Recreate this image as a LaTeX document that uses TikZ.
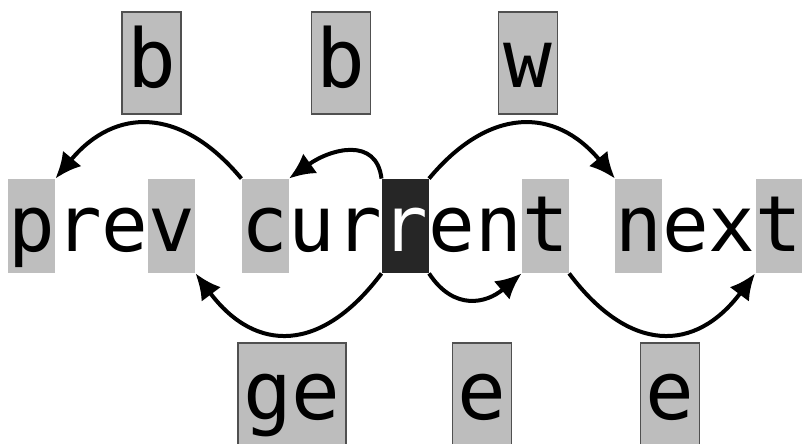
\documentclass[tikz,border=0pt]{standalone}
\usepackage{fontspec}
\newfontfamily\mono{DejaVu Sans Mono}
\usetikzlibrary{arrows.meta}
\definecolor{hl}{HTML}{BEBEBE}
\definecolor{lblfill}{HTML}{BDBDBD}
\definecolor{lbldraw}{HTML}{505050}
\definecolor{cur}{HTML}{262626}
\begin{document}
\begin{tikzpicture}[x=0.5pt,y=-0.5pt,
  cell/.style={inner sep=0pt,minimum width=23.35pt,minimum height=47pt,text height=36pt,text depth=11pt,font=\mono\fontsize{38.78pt}{47pt}\selectfont},
  hlcell/.style={cell,fill=hl},
  curcell/.style={cell,fill=cur,text=white},
  lbl/.style={draw=lbldraw,line width=0.75pt,fill=lblfill,inner xsep=2.6pt,inner ysep=0pt,minimum height=51pt,text height=38pt,text depth=13pt,font=\mono\fontsize{40.5pt}{51pt}\selectfont},
  conn/.style={line width=2pt,-{Latex[length=13pt,width=12pt]}}]
\useasboundingbox (0,0) rectangle (803,444);
\clip (0,0) rectangle (803,444);
% text row
\node[hlcell]   (c0)  at (31.65,226)  {p};
\node[cell]     (c1)  at (78.35,226)  {r};
\node[cell]     (c2)  at (125.05,226) {e};
\node[hlcell]   (c3)  at (171.75,226) {v};
\node[cell]     (c4)  at (218.45,226) {\phantom{x}};
\node[hlcell]   (c5)  at (265.15,226) {c};
\node[cell]     (c6)  at (311.85,226) {u};
\node[cell]     (c7)  at (358.55,226) {r};
\node[curcell]  (c8)  at (405.25,226) {r};
\node[cell]     (c9)  at (451.95,226) {e};
\node[cell]     (c10) at (498.65,226) {n};
\node[hlcell]   (c11) at (545.35,226) {t};
\node[cell]     (c12) at (592.05,226) {\phantom{x}};
\node[hlcell]   (c13) at (638.75,226) {n};
\node[cell]     (c14) at (685.45,226) {e};
\node[cell]     (c15) at (732.15,226) {x};
\node[hlcell]   (c16) at (778.85,226) {t};
% labels
\node[lbl] (lb1) at (151.5,63) {b};
\node[lbl] (lb2) at (341,63)   {b};
\node[lbl] (lw)  at (528,63)   {w};
\node[lbl] (lge) at (292,394)  {ge};
\node[lbl] (le1) at (482,394)  {e};
\node[lbl] (le2) at (670,394)  {e};
% connectors
\draw[conn] (c5.north west) .. controls +(-60,-72) and +(60,-72) .. (c0.north east);
\draw[conn] (c8.north west) .. controls +(-5,-42) and +(42,-30) .. (c5.north east);
\draw[conn] (c8.north east) .. controls +(60,-72) and +(-60,-72) .. (c13.north west);
\draw[conn] (c8.south west) .. controls +(-60,80) and +(60,80) .. (c3.south east);
\draw[conn] (c8.south east) .. controls +(25,38) and +(-35,30) .. (c11.south west);
\draw[conn] (c11.south east) .. controls +(60,80) and +(-60,80) .. (c16.south west);
\end{tikzpicture}
\end{document}
